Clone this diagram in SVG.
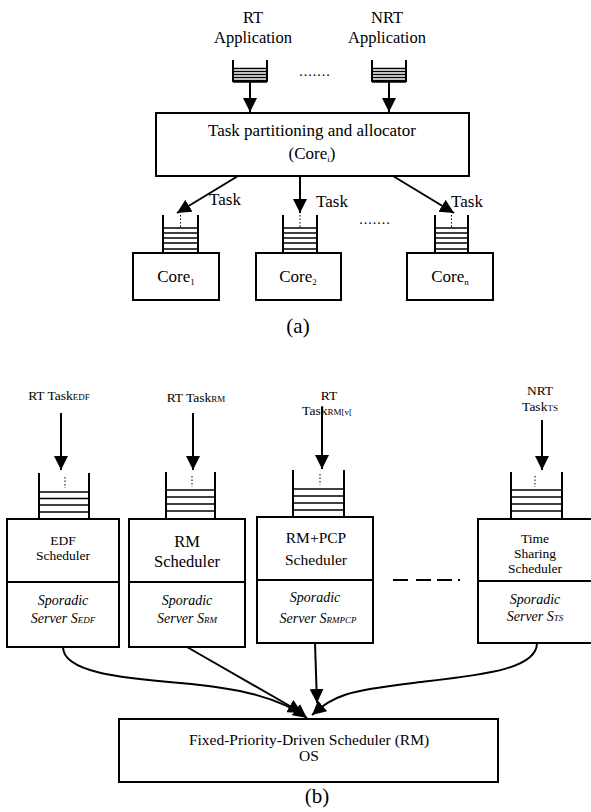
<svg xmlns="http://www.w3.org/2000/svg" width="591" height="812" viewBox="0 0 591 812" font-family="'Liberation Serif', 'Times New Roman', 'DejaVu Serif', serif">
<style>
text{font-family:'Liberation Serif','Times New Roman','DejaVu Serif',serif;fill:#000;text-anchor:middle}
.t17{font-size:17px}
.t16{font-size:16.5px}
.t15{font-size:15.5px}
.t14{font-size:14px}
.t13{font-size:13.5px}
.it{font-style:italic;font-size:14px}
.sub{font-size:9px}
.box{fill:#fff;stroke:#000;stroke-width:2}
.q{fill:none;stroke:#000;stroke-width:2}
.ql{fill:none;stroke:#000;stroke-width:1.6}
.dot{fill:none;stroke:#000;stroke-width:1;stroke-dasharray:1.5 2}
.ln{fill:none;stroke:#000;stroke-width:2}
.arr{fill:none;stroke:#000;stroke-width:2;marker-end:url(#ah)}
</style>
<defs>
<marker id="ah" viewBox="0 0 10 10" refX="10" refY="5" markerWidth="7" markerHeight="7" orient="auto" markerUnits="strokeWidth">
<path d="M0,0 L10,5 L0,10 Z" fill="#000"/>
</marker>
</defs>

<!-- ===== Part (a) ===== -->
<g id="rt-app">
<text class="t16" x="253" y="23">RT</text>
<text class="t16" x="253" y="43">Application</text>
</g>
<g id="nrt-app">
<text class="t16" x="387" y="23">NRT</text>
<text class="t16" x="387" y="43">Application</text>
</g>
<g id="rt-queue">
<path class="q" d="M233,60 V82 M267,60 V82"/>
<path class="ql" d="M233,68.5 H267 M233,71.5 H267 M233,74.5 H267 M233,77.5 H267 M233,80.5 H267 M233,82 H267"/>
</g>
<g id="nrt-queue">
<path class="q" d="M372,60 V82 M406,60 V82"/>
<path class="ql" d="M372,68.5 H406 M372,71.5 H406 M372,74.5 H406 M372,77.5 H406 M372,80.5 H406 M372,82 H406"/>
</g>
<text class="t14" x="315" y="76" style="letter-spacing:1px">.......</text>

<g id="allocator">
<rect class="box" x="156" y="113" width="313" height="63"/>
<text class="t17" x="312" y="136">Task partitioning and allocator</text>
<text class="t17" x="312" y="159">(Core<tspan class="sub" dy="3">i</tspan><tspan dy="-3">)</tspan></text>
</g>

<g id="core1">
<path class="q" d="M163,215 V253 M198,215 V253"/>
<path class="dot" d="M180.5,215 V227"/>
<path class="ql" d="M163,228 H198 M163,233 H198 M163,238 H198 M163,243 H198 M163,249 H198"/>
<rect class="box" x="133" y="253" width="86" height="47"/>
<text class="t17" x="176" y="282">Core<tspan class="sub" dy="3">1</tspan></text>
</g>
<g id="core2">
<path class="q" d="M283,215 V253 M317,215 V253"/>
<path class="dot" d="M300,215 V227"/>
<path class="ql" d="M283,228 H317 M283,233 H317 M283,238 H317 M283,243 H317 M283,249 H317"/>
<rect class="box" x="256" y="253" width="85" height="47"/>
<text class="t17" x="298" y="282">Core<tspan class="sub" dy="3">2</tspan></text>
</g>
<g id="coren">
<path class="q" d="M435,215 V253 M468,215 V253"/>
<path class="dot" d="M451.5,215 V227"/>
<path class="ql" d="M435,228 H468 M435,233 H468 M435,238 H468 M435,243 H468 M435,249 H468"/>
<rect class="box" x="407" y="253" width="86" height="47"/>
<text class="t17" x="450" y="282">Core<tspan class="sub" dy="3">n</tspan></text>
</g>
<text class="t14" x="375" y="224" style="letter-spacing:1px">.......</text>

<g id="connectors-a">
<path class="arr" d="M250,82 V112"/>
<path class="arr" d="M389,82 V112"/>
<path class="arr" d="M238,176 L177,213"/>
<path class="arr" d="M300,176 V213"/>
<path class="arr" d="M393,176 L454,213"/>
<text class="t17" x="225" y="205">Task</text>
<text class="t17" x="332" y="207">Task</text>
<text class="t17" x="467" y="207">Task</text>
</g>
<text x="298" y="333" style="font-size:21px">(a)</text>

<!-- ===== Part (b) ===== -->
<g id="edf">
<text class="t13" x="59" y="400">RT Task<tspan class="sub">EDF</tspan></text>
<path class="q" d="M39,473 V519 M89,473 V519"/>
<path class="dot" d="M65,477 V488"/>
<path class="ql" d="M39,492 H89 M39,498.5 H89 M39,505 H89 M39,512 H89"/>
<rect class="box" x="7" y="519" width="112" height="128"/>
<path class="ln" d="M7,582 H119"/>
<text class="t13" x="63" y="545">EDF</text>
<text class="t13" x="63" y="560">Scheduler</text>
<text class="it" x="63" y="605">Sporadic</text>
<text class="it" x="63" y="623">Server S<tspan class="sub">EDF</tspan></text>
</g>
<g id="rm">
<text class="t13" x="196" y="402">RT Task<tspan class="sub">RM</tspan></text>
<path class="q" d="M166,472 V519 M215,472 V519"/>
<path class="dot" d="M192,476 V487"/>
<path class="ql" d="M166,490 H215 M166,497 H215 M166,504 H215 M166,511 H215"/>
<rect class="box" x="129" y="519" width="116" height="128"/>
<path class="ln" d="M129,582 H245"/>
<text class="t16" x="187" y="547">RM</text>
<text class="t16" x="187" y="567">Scheduler</text>
<text class="it" x="187" y="605">Sporadic</text>
<text class="it" x="187" y="623">Server S<tspan class="sub">RM</tspan></text>
</g>
<g id="rmpcp">
<text class="t13" x="329" y="400">RT</text>
<text class="t13" x="327" y="415">Task<tspan class="sub">RM[v[</tspan></text>
<path class="q" d="M293,470 V517 M344,470 V517"/>
<path class="dot" d="M320,474 V485"/>
<path class="ql" d="M293,489 H344 M293,496 H344 M293,503 H344 M293,510 H344"/>
<rect class="box" x="257" y="517" width="116" height="126"/>
<path class="ln" d="M257,580 H373"/>
<text class="t15" x="316" y="543">RM+PCP</text>
<text class="t15" x="316" y="565">Scheduler</text>
<text class="it" x="315" y="602">Sporadic</text>
<text class="it" x="318" y="623">Server S<tspan class="sub">RMPCP</tspan></text>
</g>
<g id="ts">
<text class="t13" x="540" y="395">NRT</text>
<text class="t13" x="540" y="411">Task<tspan class="sub">TS</tspan></text>
<path class="q" d="M511,472 V519 M562,472 V519"/>
<path class="dot" d="M535,476 V487"/>
<path class="ql" d="M511,490 H562 M511,497 H562 M511,504 H562 M511,511 H562"/>
<rect class="box" x="478" y="519" width="120" height="124"/>
<path class="ln" d="M478,581 H598"/>
<text class="t13" x="535" y="543">Time</text>
<text class="t13" x="535" y="558">Sharing</text>
<text class="t13" x="535" y="573">Scheduler</text>
<text class="it" x="535" y="604">Sporadic</text>
<text class="it" x="535" y="621">Server S<tspan class="sub">TS</tspan></text>
</g>
<path d="M393,580 H462" style="fill:none;stroke:#000;stroke-width:2;stroke-dasharray:15 8 15 6 15 6 2 99"/>

<g id="os">
<rect class="box" x="119" y="719" width="379" height="63"/>
<text style="font-size:15.5px" x="309" y="745">Fixed-Priority-Driven Scheduler (RM)</text>
<text style="font-size:15.5px" x="309" y="761">OS</text>
</g>

<g id="connectors-b">
<path class="arr" d="M61,413 V470"/>
<path class="arr" d="M193,413 V470"/>
<path class="arr" d="M322,407 V469"/>
<path class="arr" d="M542,420 V470"/>
<path class="arr" d="M63,647 C63,672 120,678 180,683 S280,698 307,718"/>
<path class="arr" d="M187,647 L302,713"/>
<path class="arr" d="M315,643 L317,703"/>
<path class="arr" d="M537,643 C537,670 480,675 413,683 S335,695 312,715"/>
</g>
<text x="317" y="803" style="font-size:21px">(b)</text>
</svg>
